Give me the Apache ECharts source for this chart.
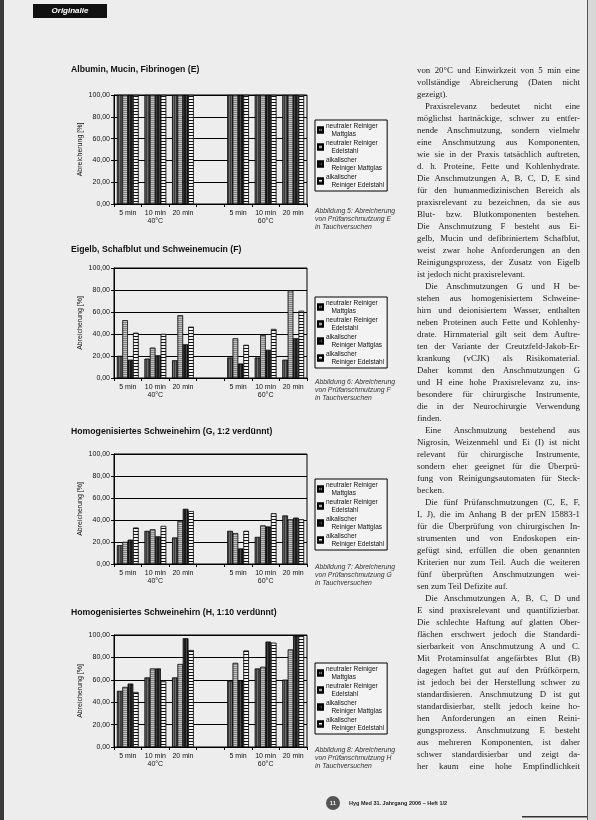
<!DOCTYPE html>
<html><head><meta charset="utf-8">
<script src="https://cdn.jsdelivr.net/npm/echarts/dist/echarts.min.js"></script>
<style>
html,body{margin:0;padding:0;}
body{width:596px;height:820px;background:#ededed;position:relative;overflow:hidden;}
#chart{position:absolute;left:0;top:0;width:596px;height:820px;}
#text{position:absolute;left:417px;top:64px;width:163px;font-family:"Liberation Serif","DejaVu Serif",serif;font-size:8.8px;color:#222;}
#text div{height:12px;line-height:12px;text-align:justify;text-align-last:justify;overflow:hidden;}
#text div.end{text-align-last:left;}
#text div.ind{text-indent:8px;}
</style></head>
<body>
<div id="chart"></div>
<div id="text"></div>
<script>
// ---- data ----
const categories = ['5 min', '10 min\n40°C', '20 min', '', '5 min', '10 min\n60°C', '20 min'];
const seriesNames = ['neutraler Reiniger Mattglas', 'neutraler Reiniger Edelstahl', 'alkalischer Reiniger Mattglas', 'alkalischer Reiniger Edelstahl'];
const yTickValues = [0, 20, 40, 60, 80, 100];

const chartTitles = ['Albumin, Mucin, Fibrinogen (E)', 'Eigelb, Schafblut und Schweinemucin (F)', 'Homogenisiertes Schweinehirn (G, 1:2 verdünnt)', 'Homogenisiertes Schweinehirn (H, 1:10 verdünnt)'];
const captions = [
  'Abbildung 5: Abreicherung\nvon Prüfanschmutzung E\nin Tauchversuchen',
  'Abbildung 6: Abreicherung\nvon Prüfanschmutzung F\nin Tauchversuchen',
  'Abbildung 7: Abreicherung\nvon Prüfanschmutzung G\nin Tauchversuchen',
  'Abbildung 8: Abreicherung\nvon Prüfanschmutzung H\nin Tauchversuchen'
];

// E: Albumin, Mucin, Fibrinogen
const E_neutralMattglas   = [100, 100, 100, null, 100, 100, 100];
const E_neutralEdelstahl  = [100, 100, 100, null, 100, 100, 100];
const E_alkalischMattglas = [100, 100, 100, null, 100, 100, 100];
const E_alkalischEdelstahl= [100, 100, 100, null, 100, 100, 100];
// F: Eigelb, Schafblut, Schweinemucin
const F_neutralMattglas   = [20, 17.5, 16, null, 18.5, 18.5, 16.5];
const F_neutralEdelstahl  = [52.5, 27.5, 57, null, 36, 39, 79.5];
const F_alkalischMattglas = [16.5, 20.5, 30.5, null, 13, 25.5, 36];
const F_alkalischEdelstahl= [41, 40, 46.5, null, 30, 44.5, 61];
// G: Schweinehirn 1:2
const G_neutralMattglas   = [17, 30, 24, null, 30, 24.5, 44];
const G_neutralEdelstahl  = [20, 31.5, 39, null, 28, 35, 40.5];
const G_alkalischMattglas = [22, 25, 50, null, 14, 34, 42];
const G_alkalischEdelstahl= [33, 34.5, 48, null, 30, 46, 40.5];
// H: Schweinehirn 1:10
const H_neutralMattglas   = [50, 62, 62, null, 59, 70, 60];
const H_neutralEdelstahl  = [53.5, 70, 74, null, 75, 71.5, 87];
const H_alkalischMattglas = [56.5, 70, 97, null, 59.5, 94, 99.5];
const H_alkalischEdelstahl= [49, 58.5, 86.5, null, 86, 93, 99];

const chartData = [
  [E_neutralMattglas, E_neutralEdelstahl, E_alkalischMattglas, E_alkalischEdelstahl],
  [F_neutralMattglas, F_neutralEdelstahl, F_alkalischMattglas, F_alkalischEdelstahl],
  [G_neutralMattglas, G_neutralEdelstahl, G_alkalischMattglas, G_alkalischEdelstahl],
  [H_neutralMattglas, H_neutralEdelstahl, H_alkalischMattglas, H_alkalischEdelstahl]
];

// ---- layout / style ----
const SANS = '"Liberation Sans", Arial, sans-serif';
const layout = [
  {top: 95, h: 109, legendTop: 120, captionTop: 207, titleTop: 65},
  {top: 268, h: 110, legendTop: 297, captionTop: 378, titleTop: 245},
  {top: 454, h: 110, legendTop: 479, captionTop: 563, titleTop: 427},
  {top: 635, h: 112, legendTop: 663, captionTop: 746, titleTop: 608}
];
const seriesStyles = [
  {color: '#6e6e6e', decal: {symbol: 'rect', symbolSize: 1, dashArrayX: [1, 1], dashArrayY: [4, 0], color: 'rgba(20,20,20,0.55)'}},
  {color: '#c4c4c4', decal: {symbol: 'rect', symbolSize: 1, dashArrayX: [4, 0], dashArrayY: [1, 1], color: 'rgba(90,90,90,0.6)'}},
  {color: '#1c1c1c', decal: {symbol: 'rect', symbolSize: 1, dashArrayX: [1, 2], dashArrayY: [4, 0], color: 'rgba(110,110,110,0.5)'}},
  {color: '#f6f6f6', decal: {symbol: 'rect', symbolSize: 1, dashArrayX: [4, 0], dashArrayY: [1, 1.2], color: '#111'}}
];
const legendLabels = {
  'neutraler Reiniger Mattglas': 'neutraler Reiniger\n   Mattglas',
  'neutraler Reiniger Edelstahl': 'neutraler Reiniger\n   Edelstahl',
  'alkalischer Reiniger Mattglas': 'alkalischer\n   Reiniger Mattglas',
  'alkalischer Reiniger Edelstahl': 'alkalischer\n   Reiniger Edelstahl'
};

const grid = [], xAxis = [], yAxis = [], series = [], legend = [], title = [], graphic = [];
layout.forEach((L, i) => {
  grid.push({left: 114, top: L.top, width: 193, height: L.h, show: true, borderColor: '#000', borderWidth: 1, backgroundColor: 'transparent'});
  xAxis.push({
    type: 'category', gridIndex: i, data: categories,
    axisLine: {lineStyle: {color: '#000', width: 1}},
    axisTick: {show: true, length: 3, lineStyle: {color: '#000'}},
    axisLabel: {fontSize: 7, color: '#111', fontFamily: SANS, margin: 5, lineHeight: 8, interval: 0}
  });
  yAxis.push({
    type: 'value', gridIndex: i, min: 0, max: 100, interval: 20,
    name: 'Abreicherung [%]', nameLocation: 'middle', nameGap: 30, nameRotate: 90,
    nameTextStyle: {fontSize: 7, color: '#111', fontFamily: SANS},
    axisLine: {show: true, lineStyle: {color: '#000'}},
    axisTick: {show: true, length: 3, lineStyle: {color: '#000'}},
    splitLine: {show: true, lineStyle: {color: '#000', width: 1}},
    axisLabel: {fontSize: 7, color: '#111', fontFamily: SANS, margin: 4,
      formatter: v => yTickValues.includes(v) ? v.toFixed(2).replace('.', ',') : ''}
  });
  chartData[i].forEach((arr, s) => {
    series.push({
      type: 'bar', name: seriesNames[s], xAxisIndex: i, yAxisIndex: i, data: arr,
      barGap: '0%', barCategoryGap: '22%',
      itemStyle: {color: seriesStyles[s].color, borderColor: '#000', borderWidth: 0.5, decal: seriesStyles[s].decal},
      emphasis: {disabled: true}, animation: false
    });
  });
  legend.push({
    left: 315, top: L.legendTop, orient: 'vertical', itemWidth: 5, itemHeight: 5, itemGap: 1,
    padding: [2, 3, 2, 2], borderColor: '#000', borderWidth: 1, backgroundColor: '#f3f3f3',
    textStyle: {fontSize: 6.5, lineHeight: 8, color: '#111', fontFamily: SANS, padding: [0, 0, 0, -2]},
    formatter: n => legendLabels[n], data: seriesNames, selectedMode: false, icon: 'rect'
  });
  title.push({text: chartTitles[i], left: 71, top: L.titleTop, padding: 0,
    textStyle: {fontSize: 8.7, fontWeight: 'bold', color: '#111', fontFamily: SANS}});
  graphic.push({type: 'text', left: 315, top: L.captionTop, style: {text: captions[i], fontSize: 6.8, lineHeight: 8, fontStyle: 'italic', fill: '#333', fontFamily: SANS}});
});

// header & footer & page edges
graphic.push({type: 'rect', shape: {x: 0, y: 0, width: 4, height: 820}, style: {fill: '#3a3a3a'}});
graphic.push({type: 'rect', shape: {x: 587, y: 0, width: 1, height: 820}, style: {fill: '#555'}});
graphic.push({type: 'rect', shape: {x: 588, y: 0, width: 8, height: 820}, style: {fill: '#d8d8d8'}});
graphic.push({type: 'rect', shape: {x: 522, y: 816, width: 65, height: 1.5}, style: {fill: '#333'}});
graphic.push({type: 'rect', shape: {x: 33, y: 4, width: 74, height: 14}, style: {fill: '#111'}});
graphic.push({type: 'text', x: 70, y: 11, style: {text: 'Originalie', fontSize: 8, fontWeight: 'bold', fontStyle: 'italic', fill: '#fff', align: 'center', verticalAlign: 'middle', fontFamily: SANS}});
graphic.push({type: 'circle', shape: {cx: 333, cy: 803, r: 7}, style: {fill: '#555'}});
graphic.push({type: 'text', x: 333, y: 803, style: {text: '11', fontSize: 6, fontWeight: 'bold', fill: '#eee', align: 'center', verticalAlign: 'middle', fontFamily: SANS}});
graphic.push({type: 'text', x: 349, y: 803, style: {text: 'Hyg Med 31. Jahrgang 2006 – Heft 1/2', fontSize: 5.5, fontWeight: 'bold', fill: '#222', verticalAlign: 'middle', fontFamily: SANS}});

const chart = echarts.init(document.getElementById('chart'), null, {renderer: 'canvas'});
chart.setOption({backgroundColor: 'transparent', animation: false, title, grid, xAxis, yAxis, series, legend, graphic});

// ---- body text column ----
const bodyLines = [
  ['von 20°C und Einwirkzeit von 5 min eine', ''],
  ['vollständige Abreicherung (Daten nicht', ''],
  ['gezeigt).', 'end'],
  ['Praxisrelevanz bedeutet nicht eine', 'ind'],
  ['möglichst hartnäckige, schwer zu entfer-', ''],
  ['nende Anschmutzung, sondern vielmehr', ''],
  ['eine Anschmutzung aus Komponenten,', ''],
  ['wie sie in der Praxis tatsächlich auftreten,', ''],
  ['d. h. Proteine, Fette und Kohlenhydrate.', ''],
  ['Die Anschmutzungen A, B, C, D, E sind', ''],
  ['für den humanmedizinischen Bereich als', ''],
  ['praxisrelevant zu bezeichnen, da sie aus', ''],
  ['Blut- bzw. Blutkomponenten bestehen.', ''],
  ['Die Anschmutzung F besteht aus Ei-', ''],
  ['gelb, Mucin und defibriniertem Schafblut,', ''],
  ['weist zwar hohe Anforderungen an den', ''],
  ['Reinigungsprozess, der Zusatz von Eigelb', ''],
  ['ist jedoch nicht praxisrelevant.', 'end'],
  ['Die Anschmutzungen G und H be-', 'ind'],
  ['stehen aus homogenisiertem Schweine-', ''],
  ['hirn und deionisiertem Wasser, enthalten', ''],
  ['neben Proteinen auch Fette und Kohlenhy-', ''],
  ['drate. Hirnmaterial gilt seit dem Auftre-', ''],
  ['ten der Variante der Creutzfeld-Jakob-Er-', ''],
  ['krankung (vCJK) als Risikomaterial.', ''],
  ['Daher kommt den Anschmutzungen G', ''],
  ['und H eine hohe Praxisrelevanz zu, ins-', ''],
  ['besondere für chirurgische Instrumente,', ''],
  ['die in der Neurochirurgie Verwendung', ''],
  ['finden.', 'end'],
  ['Eine Anschmutzung bestehend aus', 'ind'],
  ['Nigrosin, Weizenmehl und Ei (I) ist nicht', ''],
  ['relevant für chirurgische Instrumente,', ''],
  ['sondern eher geeignet für die Überprü-', ''],
  ['fung von Reinigungsautomaten für Steck-', ''],
  ['becken.', 'end'],
  ['Die fünf Prüfanschmutzungen (C, E, F,', 'ind'],
  ['I, J), die im Anhang B der prEN 15883-1', ''],
  ['für die Überprüfung von chirurgischen In-', ''],
  ['strumenten und von Endoskopen ein-', ''],
  ['gefügt sind, erfüllen die oben genannten', ''],
  ['Kriterien nur zum Teil. Auch die weiteren', ''],
  ['fünf überprüften Anschmutzungen wei-', ''],
  ['sen zum Teil Defizite auf.', 'end'],
  ['Die Anschmutzungen A, B, C, D und', 'ind'],
  ['E sind praxisrelevant und quantifizierbar.', ''],
  ['Die schlechte Haftung auf glatten Ober-', ''],
  ['flächen erschwert jedoch die Standardi-', ''],
  ['sierbarkeit von Anschmutzung A und C.', ''],
  ['Mit Protaminsulfat angefärbtes Blut (B)', ''],
  ['dagegen haftet gut auf den Prüfkörpern,', ''],
  ['ist jedoch bei der Herstellung schwer zu', ''],
  ['standardisieren. Anschmutzung D ist gut', ''],
  ['standardisierbar, stellt jedoch keine ho-', ''],
  ['hen Anforderungen an einen Reini-', ''],
  ['gungsprozess. Anschmutzung E besteht', ''],
  ['aus mehreren Komponenten, ist daher', ''],
  ['schwer standardisierbar und zeigt da-', ''],
  ['her kaum eine hohe Empfindlichkeit', '']
];
const tc = document.getElementById('text');
bodyLines.forEach(([t, cls]) => {
  const d = document.createElement('div');
  if (cls) d.className = cls;
  d.textContent = t;
  tc.appendChild(d);
});
</script>
</body></html>
